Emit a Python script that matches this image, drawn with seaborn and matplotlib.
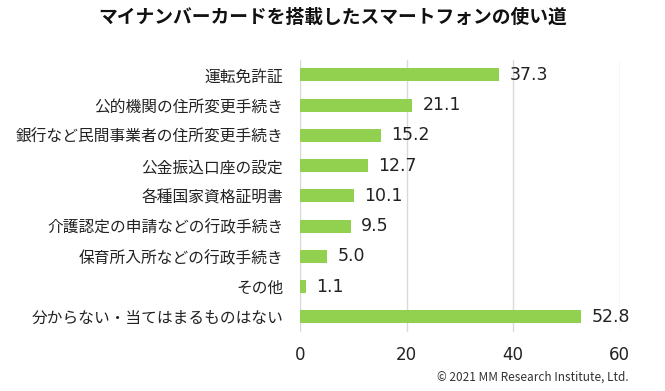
import matplotlib
matplotlib.use("Agg")
import matplotlib.pyplot as plt
import seaborn as sns
import pandas as pd

categories = ["運転免許証", "公的機関の住所変更手続き", "銀行など民間事業者の住所変更手続き",
              "公金振込口座の設定", "各種国家資格証明書", "介護認定の申請などの行政手続き",
              "保育所入所などの行政手続き", "その他", "分からない・当てはまるものはない"]
values = [37.3, 21.1, 15.2, 12.7, 10.1, 9.5, 5.0, 1.1, 52.8]
xticks = [0, 20, 40, 60]

sns.set_theme(style="white")
plt.rcParams['font.family'] = ['Noto Sans CJK JP', 'DejaVu Sans']

df = pd.DataFrame({"cat": categories, "val": values})

fig = plt.figure(figsize=(6.65, 3.91), dpi=100)
ax = fig.add_axes([0.451, 0.151, 0.481, 0.696])
sns.barplot(data=df, y="cat", x="val", color="#92D050", saturation=1, width=0.43,
            ax=ax, edgecolor="none")
ax.set_xlim(0, 60)
ax.set_ylim(8.5, -0.5)
ax.set_xticks(xticks)
ax.set_xticklabels([str(t) for t in xticks], fontsize=12, color="#222222", family="DejaVu Sans")
ax.tick_params(axis="y", labelsize=11.3, colors="#222222", length=0, pad=12)
ax.tick_params(axis="x", length=0, pad=10)
ax.set_xlabel("")
ax.set_ylabel("")
ax.grid(axis="x", color="#d9d9d9", linewidth=1)
ax.set_axisbelow(True)
for s in ax.spines.values():
    s.set_visible(False)
for i, v in enumerate(values):
    ax.text(v + 2.0, i, f"{v:.1f}", va="center", ha="left", fontsize=12.5, color="#222222",
            family="DejaVu Sans")

fig.text(0.5, 0.955, "マイナンバーカードを搭載したスマートフォンの使い道", ha="center", va="center",
         fontsize=13.5, fontweight="bold", color="#111111")
fig.text(0.945, 0.035, "© 2021 MM Research Institute, Ltd.", ha="right", va="center",
         fontsize=8.5, color="#333333")

fig.savefig("out.png", dpi=100)
